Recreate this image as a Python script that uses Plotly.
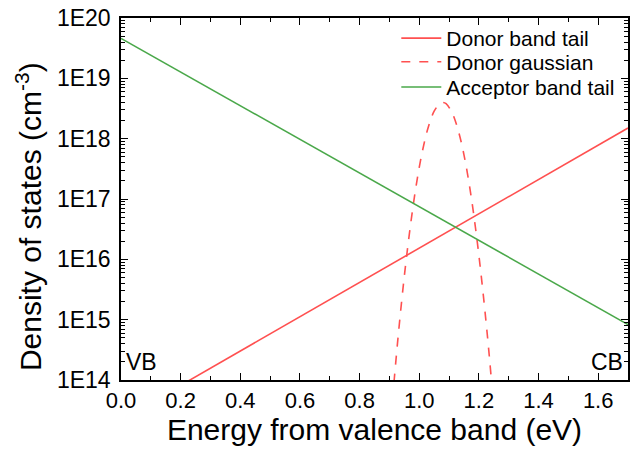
import plotly.graph_objects as go

# Data
donor_tail_x = [0.0, 1.7]
donor_tail_y = [2.2e13, 1.5e18]

acceptor_tail_x = [0.0, 1.7]
acceptor_tail_y = [4.6e19, 8.3e14]

gauss_x = [0.91, 0.916, 0.93, 0.95, 0.97, 0.99, 1.01, 1.03, 1.05, 1.07, 1.08,
           1.09, 1.11, 1.13, 1.15, 1.17, 1.19, 1.21, 1.23, 1.242, 1.248]
gauss_y = [4.6e13, 1.0e14, 5.75e14, 5.25e15, 3.47e16, 1.70e17, 6.0e17, 1.53e18,
           2.85e18, 3.85e18, 3.98e18, 3.8e18, 2.7e18, 1.41e18, 5.4e17, 1.48e17,
           2.95e16, 4.27e15, 4.57e14, 1.0e14, 4.6e13]

y_tick_vals = [1e14, 1e15, 1e16, 1e17, 1e18, 1e19, 1e20]
y_tick_text = ["1E14", "1E15", "1E16", "1E17", "1E18", "1E19", "1E20"]

RED = "#ff5050"
GREEN = "#4aa84a"
FONT = "Arial, Liberation Sans, sans-serif"

fig = go.Figure()
fig.add_trace(go.Scatter(x=donor_tail_x, y=donor_tail_y, mode="lines",
                         name="Donor band tail", legend="legend",
                         line=dict(color=RED, width=1.6)))
fig.add_trace(go.Scatter(x=gauss_x, y=gauss_y, mode="lines", line_shape="spline",
                         name="Donor gaussian", legend="legend2",
                         line=dict(color=RED, width=1.6, dash="dash")))
fig.add_trace(go.Scatter(x=acceptor_tail_x, y=acceptor_tail_y, mode="lines",
                         name="Acceptor band tail", legend="legend3",
                         line=dict(color=GREEN, width=1.6)))

minor_y = [float(m) * 10.0 ** e for e in range(14, 20) for m in range(2, 10)]


def leg(ypos):
    return dict(x=0.543, y=ypos, xanchor="left", yanchor="top",
                bgcolor="rgba(0,0,0,0)", borderwidth=0,
                font=dict(size=21, family=FONT), itemwidth=40)


fig.update_layout(
    width=632, height=450,
    margin=dict(l=113, r=12, t=10, b=78),
    paper_bgcolor="white", plot_bgcolor="white",
    font=dict(family=FONT, color="black", size=21),
    showlegend=True,
    legend=leg(1.0),
    legend2=leg(0.935),
    legend3=leg(0.865),
    xaxis=dict(
        range=[0, 1.7], dtick=0.2, tickformat=".1f", automargin=False,
        ticks="inside", ticklen=7, tickwidth=1.3, tickcolor="black",
        showline=True, linecolor="black", linewidth=1.6, mirror="ticks",
        showgrid=False, zeroline=False, ticklabelstandoff=0,
        minor=dict(dtick=0.1, ticks="inside", ticklen=4, tickcolor="black", showgrid=False),
        title=dict(text="Energy from valence band (eV)", font=dict(size=30), standoff=5),
        tickfont=dict(size=22),
    ),
    yaxis=dict(
        type="log", range=[14, 20], automargin=False,
        tickmode="array", tickvals=y_tick_vals, ticktext=y_tick_text,
        ticks="inside", ticklen=7, tickwidth=1.3, tickcolor="black",
        showline=True, linecolor="black", linewidth=1.6, mirror="ticks",
        showgrid=False, zeroline=False, ticklabelstandoff=4,
        ticklabeloverflow="allow",
        minor=dict(tickmode="array", tickvals=minor_y, ticks="inside", ticklen=4,
                   tickcolor="black", showgrid=False),
        tickfont=dict(size=23),
    ),
    annotations=[
        dict(x=0, y=0.45, xref="paper", yref="paper",
             text="Density of states (cm<sup>-3</sup>)", showarrow=False,
             textangle=-90, xanchor="center", yanchor="middle", xshift=-92,
             font=dict(size=30)),
        dict(x=0, y=0, xref="paper", yref="paper", text="VB", showarrow=False,
             xanchor="left", yanchor="bottom", xshift=3, yshift=3, font=dict(size=23)),
        dict(x=1, y=0, xref="paper", yref="paper", text="CB", showarrow=False,
             xanchor="right", yanchor="bottom", xshift=-3, yshift=3, font=dict(size=23)),
    ],
)

fig.write_html("out.html")
